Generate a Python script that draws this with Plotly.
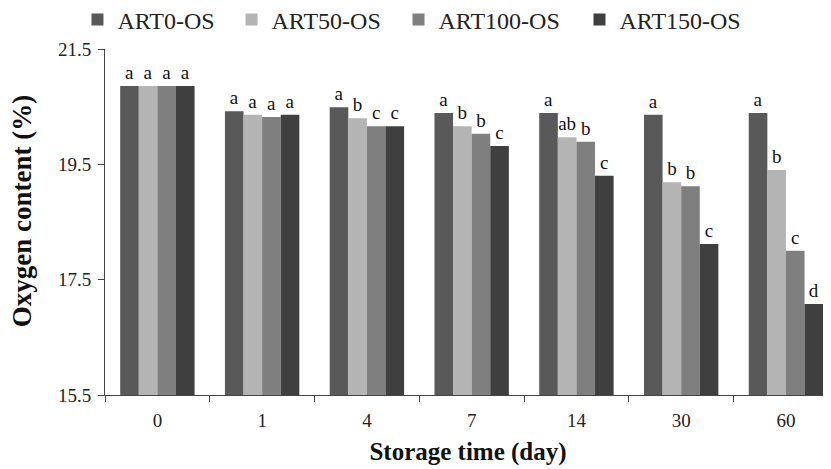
import plotly.graph_objects as go

days = ["0", "1", "4", "7", "14", "30", "60"]
series_names = ["ART0-OS", "ART50-OS", "ART100-OS", "ART150-OS"]
art0 = [20.86, 20.42, 20.49, 20.39, 20.39, 20.36, 20.39]
art50 = [20.86, 20.36, 20.30, 20.16, 19.97, 19.19, 19.40]
art100 = [20.86, 20.32, 20.16, 20.03, 19.89, 19.12, 18.00]
art150 = [20.86, 20.36, 20.16, 19.82, 19.30, 18.12, 17.08]
letters0 = ["a", "a", "a", "a", "a", "a", "a"]
letters50 = ["a", "a", "b", "b", "ab", "b", "b"]
letters100 = ["a", "a", "c", "b", "b", "b", "c"]
letters150 = ["a", "a", "c", "c", "c", "c", "d"]
colors = ["#595959", "#b4b4b4", "#7f7f7f", "#3f3f3f"]
x_title = "Storage time (day)"
y_title = "Oxygen content (%)"

values = [art0, art50, art100, art150]
letters = [letters0, letters50, letters100, letters150]
legend_ids = ["legend", "legend2", "legend3", "legend4"]
legend_x = [0.0844, 0.2716, 0.4745, 0.6944]

FONT = "Liberation Serif, Times New Roman, serif"
fig = go.Figure()
for name, vals, lets, col, lid in zip(series_names, values, letters, colors, legend_ids):
    fig.add_trace(go.Bar(
        x=days, y=vals, name=name, marker=dict(color=col, line=dict(width=0)),
        text=lets, textposition="outside", constraintext="none", cliponaxis=False,
        textfont=dict(family=FONT, size=19, color="#111111"),
        legend=lid,
    ))

legend_common = dict(orientation="h", xref="container", xanchor="left",
                     yref="paper", y=1.084, yanchor="middle",
                     font=dict(family=FONT, size=24, color="#222222"),
                     itemwidth=30, bgcolor="rgba(0,0,0,0)")
legend_layout = {lid: dict(legend_common, x=lx) for lid, lx in zip(legend_ids, legend_x)}

fig.update_layout(
    template="none",
    width=823, height=461,
    margin=dict(l=97, r=0, t=41, b=74, autoexpand=False),
    paper_bgcolor="white", plot_bgcolor="white",
    barmode="group", bargap=0.29, bargroupgap=0,
    font=dict(family=FONT, color="#222222"),
    showlegend=True,
    xaxis=dict(type="category", range=[-0.5, 6.43], showline=True, linecolor="#444444",
               linewidth=1, ticks="outside", tickson="boundaries", ticklen=6,
               tickcolor="#444444", tickfont=dict(family=FONT, size=19, color="#222222"),
               ticklabelstandoff=8, showgrid=False, automargin=False,
               title=dict(text="<b>" + x_title + "</b>", standoff=12,
                          font=dict(family=FONT, size=25, color="#111111"))),
    yaxis=dict(range=[15.5, 21.5], dtick=2, tick0=15.5, tickformat=".1f", showline=True,
               linecolor="#444444", linewidth=1, ticks="outside", ticklen=6,
               tickcolor="#444444", tickfont=dict(family=FONT, size=19, color="#222222"),
               ticklabelstandoff=3, showgrid=False, zeroline=False, automargin=False),
    annotations=[dict(text="<b>" + y_title + "</b>", textangle=-90,
                      xref="paper", yref="paper", x=-0.115, y=0.53,
                      xanchor="center", yanchor="middle", showarrow=False,
                      font=dict(family=FONT, size=27, color="#111111"))],
    **legend_layout,
)
fig.write_html("out.html")
